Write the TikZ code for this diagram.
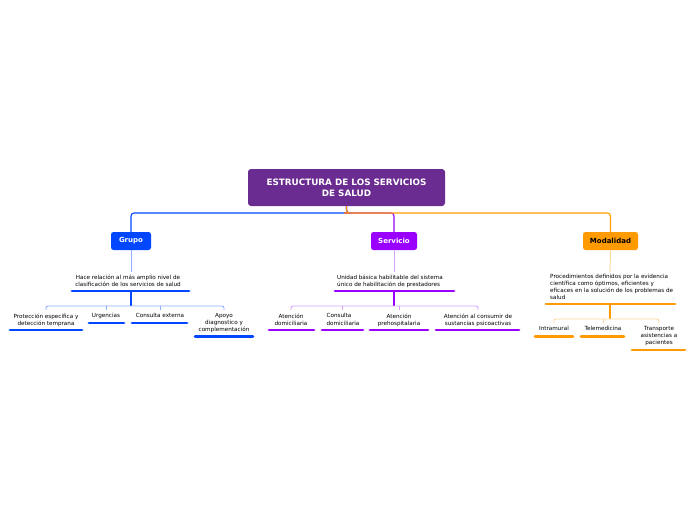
\documentclass[tikz,border=0pt]{standalone}
\usepackage{fontspec}
\setmainfont{DejaVu Sans}
\begin{document}
\begin{tikzpicture}[x=1pt,y=-1pt,
  rootbox/.style={fill=rootc,rounded corners=3pt,minimum width=197pt,minimum height=37pt,text=white,font=\bfseries\fontsize{8.8}{11}\selectfont,align=center,inner sep=0},
  topicbox/.style={rounded corners=2.5pt,minimum height=18pt,inner sep=0,font=\bfseries\fontsize{7}{7}\selectfont},
  sub/.style={font=\fontsize{5.65}{7}\selectfont,inner sep=0,anchor=north},
  link/.style={line width=1.1pt,rounded corners=3pt},
  thin/.style={line width=0.9pt},
  uline/.style={line width=2.8pt,line cap=round}]
\definecolor{rootc}{HTML}{6A2C91}
\definecolor{bl}{HTML}{0047FF}
\definecolor{lbl}{HTML}{90AEFF}
\definecolor{pu}{HTML}{9A00FF}
\definecolor{lpu}{HTML}{D6A3FF}
\definecolor{or}{HTML}{FF9A00}
\definecolor{lor}{HTML}{FFD79A}
\useasboundingbox (0,0) rectangle (696,520);
\fill[white] (0,0) rectangle (696,520);

\node[rootbox] (root) at (346.5,187.5) {ESTRUCTURA DE LOS SERVICIOS\\DE SALUD};
\node[topicbox,fill=bl,text=white,minimum width=40pt] (grupo) at (131,241) {Grupo};
\node[topicbox,fill=pu,text=white,minimum width=46pt] (servicio) at (394,241) {Servicio};
\node[topicbox,fill=or,text=black,minimum width=55pt] (modalidad) at (610.5,241) {Modalidad};

\draw[link,bl] (root.south) |- (347,213) -| (grupo.north);
\draw[link,pu] (root.south) |- (347,213) -| (servicio.north);
\draw[link,or] (root.south) |- (347,213) -| (modalidad.north);

% Grupo branch
\node[sub,align=center] (gtext) at (128,274.5) {Hace relación al más amplio nivel de\\clasificación de los servicios de salud};
\coordinate (gu1) at (72,291); \coordinate (gu2) at (189,291);
\draw[thin,lbl] (grupo.south) -- (131,272);
\draw[uline,bl] (gu1) -- (gu2);
\coordinate (gbar) at (131,306);
\draw[line width=1.4pt,bl] (131,291) -- (gbar);
\draw[thin,lbl,rounded corners=2pt] (46,310) |- (gbar) -| (224,310);
\draw[thin,lbl] (106,306) -- (106,310);
\draw[thin,lbl] (160,306) -- (160,310);
\node[sub,align=center] (g1) at (46,313.5) {Protección específica y\\detección temprana};
\node[sub,align=center] (g2) at (106,313.5) {Urgencias};
\node[sub,align=center] (g3) at (160,313.5) {Consulta externa};
\node[sub,align=center] (g4) at (224,313.5) {Apoyo\\diagnostico y\\complementación};
\draw[uline,bl] (10,330) -- (82,330);
\draw[uline,bl] (89,323) -- (124,323);
\draw[uline,bl] (132,323) -- (187,323);
\draw[uline,bl] (195,336.5) -- (253,336.5);

% Servicio branch
\node[sub,align=left] (stext) at (390,274.5) {Unidad básica habilitable del sistema\\único de habilitación de prestadores};
\draw[thin,lpu] (servicio.south) -- (394,272);
\draw[uline,pu] (335,291) -- (454,291);
\coordinate (sbar) at (394,306);
\draw[line width=1.4pt,pu] (394,291) -- (sbar);
\draw[thin,lpu,rounded corners=2pt] (291,310) |- (sbar) -| (478,310);
\draw[thin,lpu] (342,306) -- (342,310);
\draw[thin,lpu] (399,306) -- (399,310);
\node[sub,align=center] (s1) at (291,313.5) {Atención\\domiciliaria};
\node[sub,align=left] (s2) at (343,313.5) {Consulta\\domiciliaria};
\node[sub,align=center] (s3) at (399,313.5) {Atención\\prehospitalaria};
\node[sub,align=center] (s4) at (478,313.5) {Atención al consumir de\\sustancias psicoactivas};
\draw[uline,pu] (269,330) -- (314,330);
\draw[uline,pu] (322,330) -- (363,330);
\draw[uline,pu] (370,330) -- (428,330);
\draw[uline,pu] (436,330) -- (519,330);

% Modalidad branch
\node[sub,align=left,anchor=north west] (mtext) at (550,274.5) {Procedimientos definidos por la evidencia\\científica como óptimos, eficientes y\\eficaces en la solución de los problemas de\\salud};
\draw[thin,lor] (modalidad.south) -- (610,272);
\draw[uline,or] (546,304) -- (675,304);
\coordinate (mbar) at (610,319);
\draw[line width=1.4pt,or] (610,304) -- (mbar);
\draw[thin,lor,rounded corners=2pt] (554,323) |- (mbar) -| (659,323);
\draw[thin,lor] (603,319) -- (603,323);
\node[sub,align=center] (m1) at (554,326.5) {Intramural};
\node[sub,align=center] (m2) at (603,326.5) {Telemedicina};
\node[sub,align=center] (m3) at (659,326.5) {Transporte\\asistencias a\\pacientes};
\draw[uline,or] (535,336.5) -- (573,336.5);
\draw[uline,or] (581,336.5) -- (624,336.5);
\draw[uline,or] (632,350) -- (685,350);
\end{tikzpicture}
\end{document}
